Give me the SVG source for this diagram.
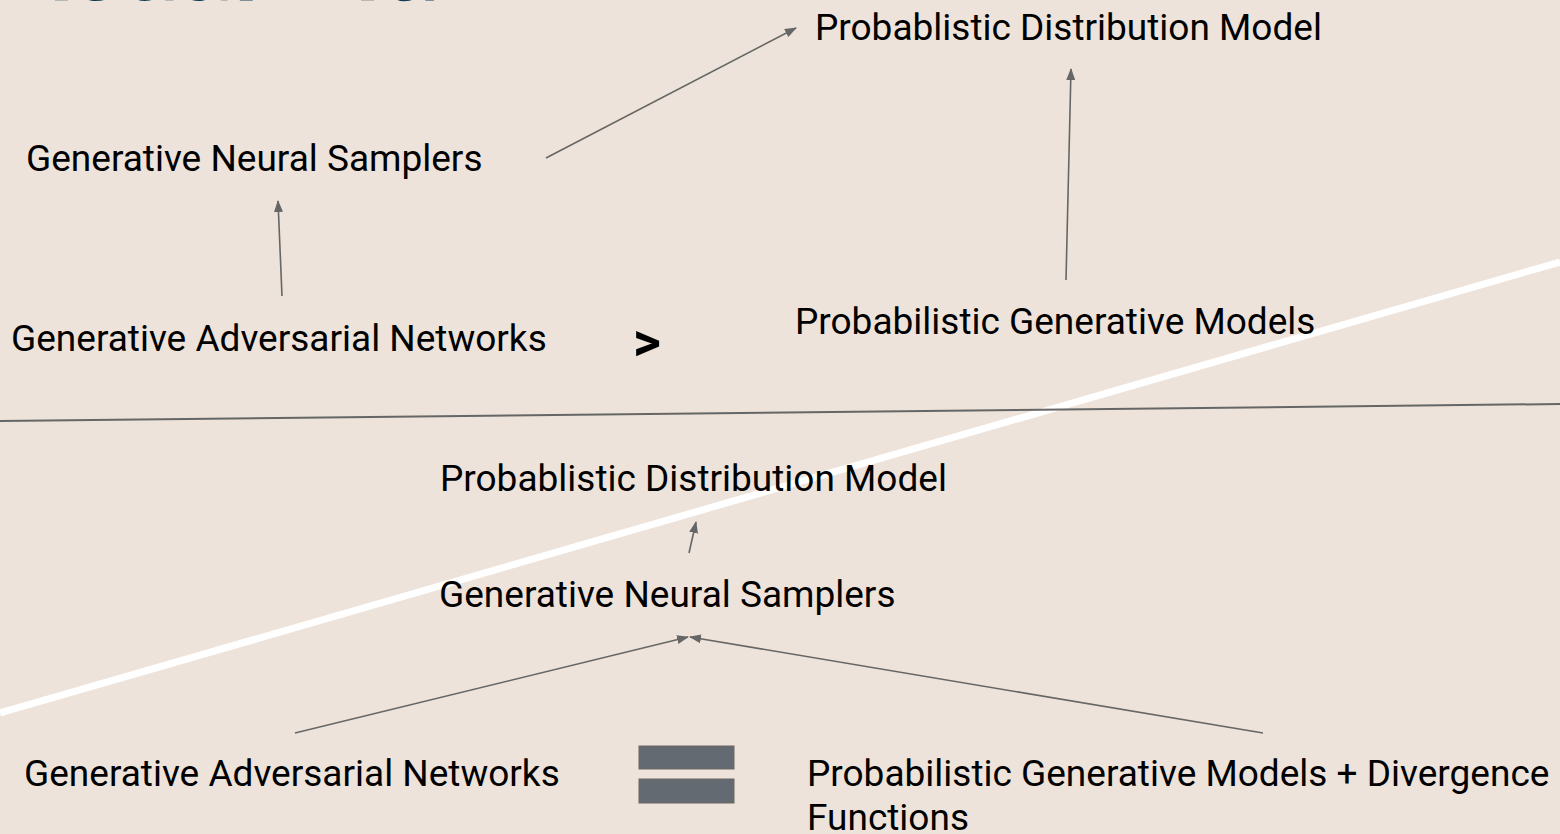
<svg xmlns="http://www.w3.org/2000/svg" width="1560" height="834" viewBox="0 0 1560 834">
<style>
.t{font-family:Roboto,"Liberation Sans",sans-serif;font-size:37px;fill:#000}
.c{stroke:#666;stroke-width:1.6;fill:none;marker-end:url(#ah)}
</style>
<defs>
<marker id="ah" markerWidth="12" markerHeight="9" refX="11" refY="4.5" orient="auto" markerUnits="userSpaceOnUse">
<path d="M0,0 L12,4.5 L0,9 z" fill="#666"/>
</marker>
</defs>
<rect width="1560" height="834" fill="#ede3da"/>
<text x="-25" y="0" style="font-family:Lato,'Liberation Sans',sans-serif;font-weight:bold;font-size:105px;fill:#0d3b55">Visual Aid</text>
<line x1="0" y1="713" x2="1560" y2="262" stroke="#fff" stroke-width="7"/>
<line x1="0" y1="421" x2="1560" y2="404" stroke="#666" stroke-width="2"/>
<g id="connectors">
<line class="c" x1="546" y1="158" x2="796" y2="28"/>
<line class="c" x1="1066" y1="280" x2="1071" y2="69"/>
<line class="c" x1="282" y1="296" x2="278" y2="201"/>
<line class="c" x1="689" y1="553" x2="696" y2="522"/>
<line class="c" x1="295" y1="733" x2="688" y2="637"/>
<line class="c" x1="1263" y1="733" x2="690" y2="637"/>
</g>
<g id="pdm-top"><text class="t" x="815" y="40">Probablistic Distribution Model</text></g>
<g id="gns-top"><text class="t" x="26" y="171">Generative Neural Samplers</text></g>
<g id="gan-top"><text class="t" x="11" y="351">Generative Adversarial Networks</text></g>
<g id="gt"><text x="633" y="360" style="font-family:Roboto,'Liberation Sans',sans-serif;font-weight:bold;font-size:54px;fill:#000">&gt;</text></g>
<g id="pgm-top"><text class="t" x="795" y="334">Probabilistic Generative Models</text></g>
<g id="pdm-bot"><text class="t" x="440" y="491">Probablistic Distribution Model</text></g>
<g id="gns-bot"><text class="t" x="439" y="607">Generative Neural Samplers</text></g>
<g id="gan-bot"><text class="t" x="24" y="786">Generative Adversarial Networks</text></g>
<g id="eq">
<rect x="639" y="746" width="95" height="23" fill="#646a71" stroke="#6e6660" stroke-width="1"/>
<rect x="639" y="779" width="95" height="24" fill="#646a71" stroke="#6e6660" stroke-width="1"/>
</g>
<g id="pgm-bot"><text class="t" x="807" y="786">Probabilistic Generative Models + Divergence</text><text class="t" x="807" y="830">Functions</text></g>
</svg>
